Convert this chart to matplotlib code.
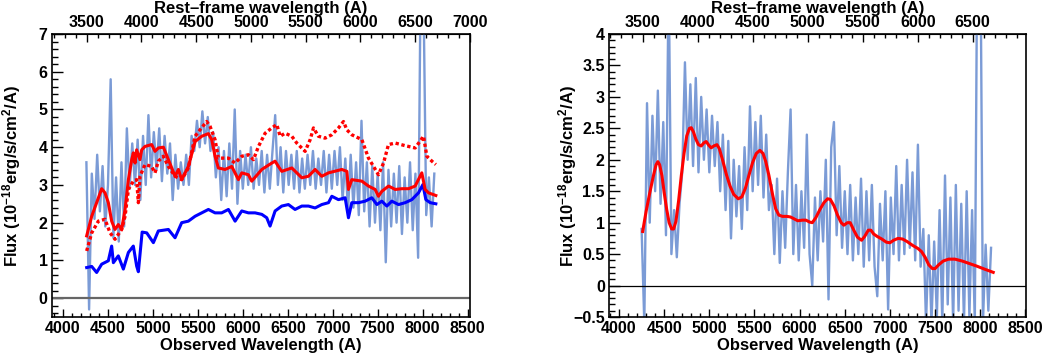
import numpy as np
import matplotlib
matplotlib.use("Agg")
import matplotlib.pyplot as plt
from matplotlib.ticker import MultipleLocator, FuncFormatter

plt.rcParams['font.family'] = ['Liberation Sans', 'DejaVu Sans']
plt.rcParams['font.weight'] = 'bold'
plt.rcParams['mathtext.fontset'] = 'custom'
plt.rcParams['mathtext.rm'] = 'Liberation Sans:bold'
plt.rcParams['mathtext.bf'] = 'Liberation Sans:bold'
plt.rcParams['mathtext.default'] = 'rm'

ONE_PLUS_Z = 1.218

# ---------------- Left panel data ----------------
left_obs_start, left_obs_step = 4260, 30
left_data = [3.6, -0.3, 3.3, 2.1, 3.8, 2.3, 3.5, 1.9, 3.0, 5.8,
             1.6, 3.2, 1.5, 3.6, 1.9, 4.5, 2.9, 4.1, 3.0, 4.2,
             2.6, 4.3, 3.0, 4.85, 3.2, 4.4, 3.4, 4.5, 3.1, 4.3,
             3.3, 4.1, 2.6, 3.8, 2.9, 3.6, 3.0, 3.8, 3.0, 4.3,
             3.9, 4.7, 4.0, 4.95, 4.1, 4.8, 3.9, 4.4, 3.2, 4.0,
             2.6, 3.9, 2.7, 4.1, 2.9, 5.0, 2.5, 3.9, 2.9, 3.8,
             3.0, 4.0, 2.9, 3.7, 3.0, 3.9, 2.8, 3.8, 2.9, 3.9,
             4.85, 3.0, 4.0, 2.8, 3.9, 3.0, 3.8, 2.9, 3.9, 2.8,
             3.7, 2.9, 3.8, 3.0, 3.9, 2.9, 3.7, 3.0, 3.9, 2.8,
             3.8, 2.9, 3.9, 3.0, 4.0, 2.6, 3.7, 2.3, 3.8, 2.4,
             3.6, 2.2, 4.7, 2.3, 3.6, 1.9, 3.5, 2.0, 3.3, 1.8,
             3.6, 0.95, 3.4, 1.9, 3.3, 2.0, 3.5, 1.7, 3.2, 2.0,
             3.6, 1.8, 3.3, 1.07, 9.0, 8.0, 2.2, 3.2, 1.9, 3.3]

host_wl = [4263, 4319, 4374, 4430, 4504, 4541, 4560, 4615, 4671, 4727, 4782,
           4819, 4838, 4880, 4931, 5005, 5060, 5172, 5246, 5320, 5394, 5469,
           5543, 5617, 5691, 5765, 5840, 5914, 5988, 6062, 6136, 6211, 6266,
           6303, 6359, 6433, 6507, 6581, 6656, 6730, 6804, 6878, 6953, 6990,
           7064, 7138, 7175, 7212, 7287, 7361, 7435, 7491, 7546, 7602, 7657,
           7732, 7806, 7880, 7954, 8003, 8036, 8084, 8147]
host_flux = [0.81, 0.84, 0.68, 0.90, 0.99, 1.38, 0.94, 1.12, 0.77, 1.21, 1.38,
             0.85, 0.70, 1.75, 1.73, 1.47, 1.78, 1.82, 1.60, 2.00, 2.04, 2.17,
             2.26, 2.35, 2.26, 2.26, 2.35, 2.04, 2.31, 2.26, 2.26, 2.22, 2.13,
             1.91, 2.31, 2.44, 2.48, 2.35, 2.44, 2.44, 2.39, 2.48, 2.53, 2.70,
             2.61, 2.66, 2.13, 2.53, 2.53, 2.57, 2.66, 2.48, 2.57, 2.44, 2.57,
             2.48, 2.53, 2.61, 2.79, 3.01, 2.61, 2.53, 2.50]

fit_wl = [4263, 4319, 4374, 4430, 4467, 4504, 4541, 4578, 4615, 4652, 4690,
          4727, 4764, 4782, 4801, 4819, 4856, 4875, 4912, 4986, 5023, 5060,
          5116, 5172, 5246, 5283, 5320, 5394, 5469, 5543, 5617, 5654, 5691,
          5728, 5803, 5877, 5951, 5988, 6062, 6099, 6211, 6322, 6359, 6396,
          6433, 6545, 6656, 6730, 6804, 6878, 6953, 7101, 7157, 7175, 7212,
          7324, 7398, 7472, 7509, 7546, 7621, 7695, 7769, 7843, 7917, 7991,
          8028, 8066, 8147]
fit_flux = [1.65, 2.17, 2.53, 2.90, 2.79, 2.53, 2.04, 1.82, 1.95, 1.82, 2.35,
            3.14, 3.67, 3.85, 3.58, 3.93, 3.67, 3.93, 4.02, 4.07, 3.89, 3.98,
            4.00, 3.67, 3.23, 3.41, 3.14, 3.49, 4.15, 4.29, 4.36, 4.20, 3.76,
            3.45, 3.41, 3.49, 3.14, 3.32, 3.27, 3.10, 3.41, 3.58, 3.63, 3.49,
            3.36, 3.45, 3.19, 3.23, 3.41, 3.23, 3.32, 3.41, 3.36, 2.88, 3.14,
            3.10, 2.97, 2.88, 2.70, 2.83, 2.97, 2.88, 2.90, 2.90, 2.97, 3.32,
            2.88, 2.79, 2.72]

alt_wl = [4263, 4319, 4393, 4467, 4523, 4578, 4652, 4690, 4727, 4782, 4819,
          4838, 4856, 4912, 4986, 5023, 5060, 5116, 5172, 5246, 5320, 5394,
          5469, 5524, 5598, 5636, 5691, 5728, 5840, 5914, 5988, 6062, 6118,
          6174, 6248, 6322, 6378, 6415, 6470, 6545, 6600, 6693, 6749, 6786,
          6841, 6915, 6990, 7064, 7120, 7157, 7212, 7324, 7398, 7454, 7509,
          7565, 7620, 7695, 7806, 7917, 8010, 8047, 8103, 8147]
alt_flux = [1.25, 1.73, 2.04, 2.09, 1.73, 1.56, 1.82, 2.17, 2.88, 3.10, 3.14,
            2.53, 3.23, 3.54, 3.49, 3.32, 3.63, 3.76, 3.49, 3.23, 3.14, 3.45,
            4.29, 4.46, 4.68, 4.55, 4.20, 3.71, 3.71, 3.58, 3.76, 3.80, 3.67,
            4.02, 4.37, 4.51, 4.60, 4.29, 4.37, 4.29, 4.11, 3.89, 4.20, 4.51,
            4.29, 4.24, 4.33, 4.51, 4.68, 4.46, 4.33, 4.20, 3.71, 3.49, 3.27,
            3.58, 4.07, 4.11, 4.04, 3.98, 4.29, 3.76, 3.63, 3.54]

# ---------------- Right panel data ----------------
right_obs_start, right_obs_step = 4250, 30
right_data = [0.9, -0.6, 2.9, 1.0, 2.7, 1.5, 3.1, 1.3, 2.6, 0.8,
              5.0, 0.5, 1.2, 0.45, 1.3, 1.8, 3.55, 2.0, 3.2, 1.9,
              3.3, 1.8, 3.0, 2.0, 2.8, 1.8, 2.7, 1.9, 2.6, 1.5,
              2.4, 1.2, 2.3, 0.75, 2.0, 1.1, 1.9, 0.9, 2.2, 1.2,
              2.85, 1.5, 2.6, 1.6, 2.7, 1.4, 2.4, 1.2, 1.6, 0.5,
              1.7, 0.36, 1.5, 0.6, 1.8, 2.8, 0.5, 1.6, 0.4, 1.5,
              0.6, 2.4, 0.5, 0.0, 1.4, 0.4, 1.5, 0.7, 2.0, -0.22,
              2.2, 2.6, 0.8, 1.9, 0.6, 1.5, 0.5, 1.6, 0.4, 1.4,
              0.5, 1.7, 0.3, 1.5, 0.4, 1.6, 0.3, -0.17, 1.3, 0.4,
              1.5, -0.38, 1.4, 0.5, 1.9, 0.4, 1.6, 0.5, 2.0, 0.6,
              1.8, 0.4, 2.24, 0.3, 0.9, -0.6, 0.8, -0.6, 0.7, -0.5,
              1.2, -0.6, 1.75, -0.3, 1.4, -0.6, 1.6, -0.4, 1.3, -0.6,
              1.5, -0.5, 1.2, -0.6, 6.0, 6.0, -0.6, 0.65, -0.4, 0.6]

smooth_wl = [4262, 4300, 4340, 4380, 4410, 4430, 4450, 4475, 4500, 4528,
             4555, 4583, 4605, 4630, 4660, 4690, 4720, 4750, 4780, 4800,
             4825, 4850, 4880, 4910, 4940, 4965, 4995, 5020, 5050, 5085,
             5110, 5150, 5190, 5230, 5270, 5320, 5360, 5400, 5440, 5480,
             5520, 5560, 5595, 5625, 5660, 5700, 5735, 5770, 5810, 5860,
             5900, 5940, 5980, 6030, 6070, 6110, 6140, 6180, 6225, 6270,
             6310, 6340, 6380, 6420, 6460, 6490, 6530, 6560, 6600, 6640,
             6686, 6720, 6760, 6790, 6820, 6860, 6910, 6960, 7000, 7040,
             7090, 7140, 7190, 7250, 7310, 7350, 7390, 7430, 7470, 7500,
             7540, 7590, 7650, 7720, 7800, 7880, 7960, 8050, 8144]
smooth_flux = [0.86, 1.18, 1.47, 1.74, 1.92, 1.97, 1.92, 1.75, 1.48, 1.21,
               1.00, 0.90, 0.90, 1.02, 1.35, 1.75, 2.10, 2.38, 2.50, 2.51,
               2.44, 2.33, 2.24, 2.22, 2.27, 2.29, 2.23, 2.19, 2.22, 2.24,
               2.18, 1.98, 1.76, 1.58, 1.45, 1.38, 1.41, 1.55, 1.76, 1.96,
               2.10, 2.15, 2.10, 1.97, 1.75, 1.45, 1.22, 1.12, 1.10, 1.10,
               1.09, 1.06, 1.03, 1.04, 1.04, 1.01, 1.00, 1.08, 1.21, 1.32,
               1.38, 1.37, 1.27, 1.12, 1.00, 0.96, 1.00, 1.00, 0.88, 0.77,
               0.72, 0.78, 0.88, 0.88, 0.82, 0.78, 0.74, 0.69, 0.68, 0.72,
               0.75, 0.74, 0.70, 0.64, 0.59, 0.54, 0.45, 0.33, 0.27, 0.27,
               0.33, 0.39, 0.42, 0.42, 0.39, 0.35, 0.31, 0.26, 0.21]

left_wl = left_obs_start + left_obs_step * np.arange(len(left_data))
right_wl = right_obs_start + right_obs_step * np.arange(len(right_data))

NOISE = '#7b9bd6'
TICK_FS = 11.5
LAB_FS = 12

fig = plt.figure(figsize=(10.44, 3.54), dpi=100)
W, H = 1044.0, 354.0
ax1 = fig.add_axes([51.7 / W, 37 / H, 418.3 / W, 283 / H])
ax2 = fig.add_axes([609 / W, 37 / H, 417 / W, 283 / H])


def fmt(v, pos):
    s = '%g' % v
    return s.replace('-', '\u2212')


def style(ax, xlim, ylim, ymaj, ymin):
    ax.set_xlim(*xlim)
    ax.set_ylim(*ylim)
    ax.xaxis.set_major_locator(MultipleLocator(500))
    ax.xaxis.set_minor_locator(MultipleLocator(100))
    ax.yaxis.set_major_locator(MultipleLocator(ymaj))
    ax.yaxis.set_minor_locator(MultipleLocator(ymin))
    ax.yaxis.set_major_formatter(FuncFormatter(fmt))
    ax.tick_params(which='both', direction='in', top=False, right=False,
                   labelsize=TICK_FS, width=1.0)
    ax.tick_params(axis='x', which='major', length=6, pad=3)
    ax.tick_params(axis='x', which='minor', length=3)
    ax.tick_params(axis='y', which='major', length=8, pad=3)
    ax.tick_params(axis='y', which='minor', length=4)
    for sp in ax.spines.values():
        sp.set_linewidth(1.2)
    for lab in ax.get_xticklabels() + ax.get_yticklabels():
        lab.set_fontweight('bold')
    ax.set_xlabel('Observed Wavelength (A)', fontsize=LAB_FS,
                  fontweight='bold', labelpad=1)
    ax.set_ylabel('Flux (10$^{\\mathbf{-18}}$erg/s/cm$^{2}$/A)',
                  fontsize=LAB_FS, fontweight='bold')
    sec = ax.secondary_xaxis('top', functions=(lambda x: x / ONE_PLUS_Z,
                                               lambda x: x * ONE_PLUS_Z))
    sec.xaxis.set_major_locator(MultipleLocator(500))
    sec.xaxis.set_minor_locator(MultipleLocator(100))
    sec.tick_params(which='both', direction='in', labelsize=TICK_FS,
                    width=1.0)
    sec.tick_params(which='major', length=6, pad=3)
    sec.tick_params(which='minor', length=3)
    sec.set_xlabel('Rest\u2013frame wavelength (A)', fontsize=LAB_FS,
                   fontweight='bold', labelpad=1)
    for lab in sec.get_xticklabels():
        lab.set_fontweight('bold')
    return sec


# Left panel
ax1.plot(left_wl, left_data, color=NOISE, lw=1.7, zorder=1)
ax1.axhline(0, color='#666666', lw=1.6, zorder=2)
ax1.plot(host_wl, host_flux, color='#0000ff', lw=2.2, zorder=3)
ax1.plot(alt_wl, alt_flux, color='#ff0000', lw=2.4, ls=(0, (1, 0.8)), zorder=4)
ax1.plot(fit_wl, fit_flux, color='#ff0000', lw=2.2, zorder=5)
style(ax1, (3874, 8527), (-0.5, 7), 1, 0.2)
ax1.yaxis.set_label_coords(-0.068, 0.5)

# Right panel
ax2.plot(right_wl, right_data, color=NOISE, lw=1.7, zorder=1)
ax2.axhline(0, color='black', lw=0.9, zorder=2)
ax2.plot(smooth_wl, smooth_flux, color='#ff0000', lw=2.2, zorder=3)
style(ax2, (3889, 8507), (-0.5, 4), 0.5, 0.1)
ax2.yaxis.set_label_coords(-0.072, 0.5)

fig.savefig('out.png', dpi=100)
